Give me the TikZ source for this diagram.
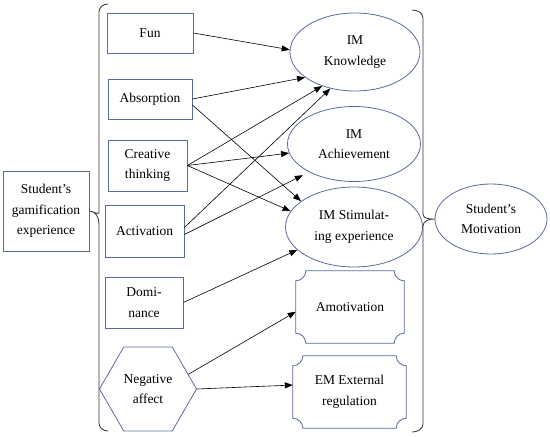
\documentclass[tikz,border=0pt]{standalone}
\usepackage{fontspec}
\setmainfont{Liberation Serif}
\usepackage{xcolor}
\definecolor{slate}{HTML}{5A6B9E}
\usepackage{tikz}
\usetikzlibrary{arrows.meta,positioning,shapes.geometric,calc}

% frame with scooped corners, drawn round a node
\newcommand{\scoopframe}[1]{%
  \draw[frame] ($(#1.north west)+(10,0)$) -- ($(#1.north east)+(-10,0)$)
    arc[start angle=180,end angle=270,radius=10pt] -- ($(#1.south east)+(0,10)$)
    arc[start angle=90,end angle=180,radius=10pt] -- ($(#1.south west)+(10,0)$)
    arc[start angle=0,end angle=90,radius=10pt] -- ($(#1.north west)+(0,-10)$)
    arc[start angle=270,end angle=360,radius=10pt] -- cycle;}

\begin{document}
\begin{tikzpicture}[
  x=1pt,y=1pt,
  font=\fontsize{13.5}{20.5}\selectfont,
  box/.style={draw=slate,line width=0.8pt,align=center,inner sep=1pt},
  oval/.style={ellipse,draw=slate,line width=0.8pt,align=center,inner sep=0pt},
  plaque/.style={align=center,inner sep=1pt},
  frame/.style={draw=slate,line width=0.8pt},
  arr/.style={-{Triangle[length=8pt,width=6pt]},line width=0.6pt,draw=black},
  curly/.style={line width=0.8pt,draw=black!80}
]
\useasboundingbox (0,0) rectangle (550,-437);
\node[box,minimum width=86,minimum height=80] (game) at (46,-211) {Student’s\\gamification\\experience};
\node[box,minimum width=86,minimum height=40] (fun) at (150,-33) {Fun};
\node[box,minimum width=84,minimum height=40] (absorb) at (150,-99) {Absorption};
\node[box,minimum width=79,minimum height=51] (creat) at (147.5,-165.5) {Creative\\thinking};
\node[box,minimum width=79,minimum height=52] (activ) at (144.5,-231) {Activation};
\node[box,minimum width=78,minimum height=51] (domin) at (144,-302.5) {Domi-\\nance};
\node[regular polygon,regular polygon sides=6,draw=slate,line width=0.8pt,minimum size=97,inner sep=0pt,align=center] (negaff) at (148,-389) {Negative\\affect};
\node[oval,minimum width=130,minimum height=78] (imk) at (355,-52) {IM\\Knowledge};
\node[oval,minimum width=133,minimum height=75] (ima) at (354,-144) {IM\\Achievement};
\node[oval,minimum width=137,minimum height=80] (ims) at (354,-227) {IM Stimulat-\\ing experience};
\node[plaque,minimum width=108,minimum height=72] (amot) at (350,-307) {Amotivation};
\node[plaque,minimum width=113,minimum height=72] (emreg) at (349.5,-392) {EM External\\regulation};
\node[oval,minimum width=112,minimum height=70] (motiv) at (491,-219) {Student’s\\Motivation};
\scoopframe{amot}
\scoopframe{emreg}
% braces
\coordinate (ltip) at (game.east); \coordinate (rtip) at (motiv.west);
\draw[curly] (108,-4) to[out=180,in=90] (99,-12) -- (99,-212)
  to[out=-90,in=0] (ltip) to[out=0,in=90] (99,-224) -- (99,-423)
  to[out=-90,in=180] (108,-431);
\draw[curly] (412,-10) to[out=0,in=90] (423,-18) -- (423,-214)
  to[out=-90,in=180] (rtip) to[out=180,in=90] (423,-226) -- (423,-424)
  to[out=-90,in=0] (412,-432);
% arrows
\draw[arr] (fun.east) -- (imk.178);
\draw[arr] (absorb.east) -- (imk.207);
\draw[arr] (absorb.352) -- (ims.154);
\draw[arr] (creat.east) -- (imk.226);
\draw[arr] (creat.east) -- (ima.188);
\draw[arr] (creat.east) -- (ims.166);
\draw[arr] (activ.5) -- (imk.236);
\draw[arr,shorten >=7pt] (activ.-5) -- (ima.212);
\draw[arr] (domin.east) -- (ims.202);
\draw[arr] (negaff.20) -- (amot.185);
\draw[arr] (negaff.east) -- (emreg.173);
\end{tikzpicture}
\end{document}
